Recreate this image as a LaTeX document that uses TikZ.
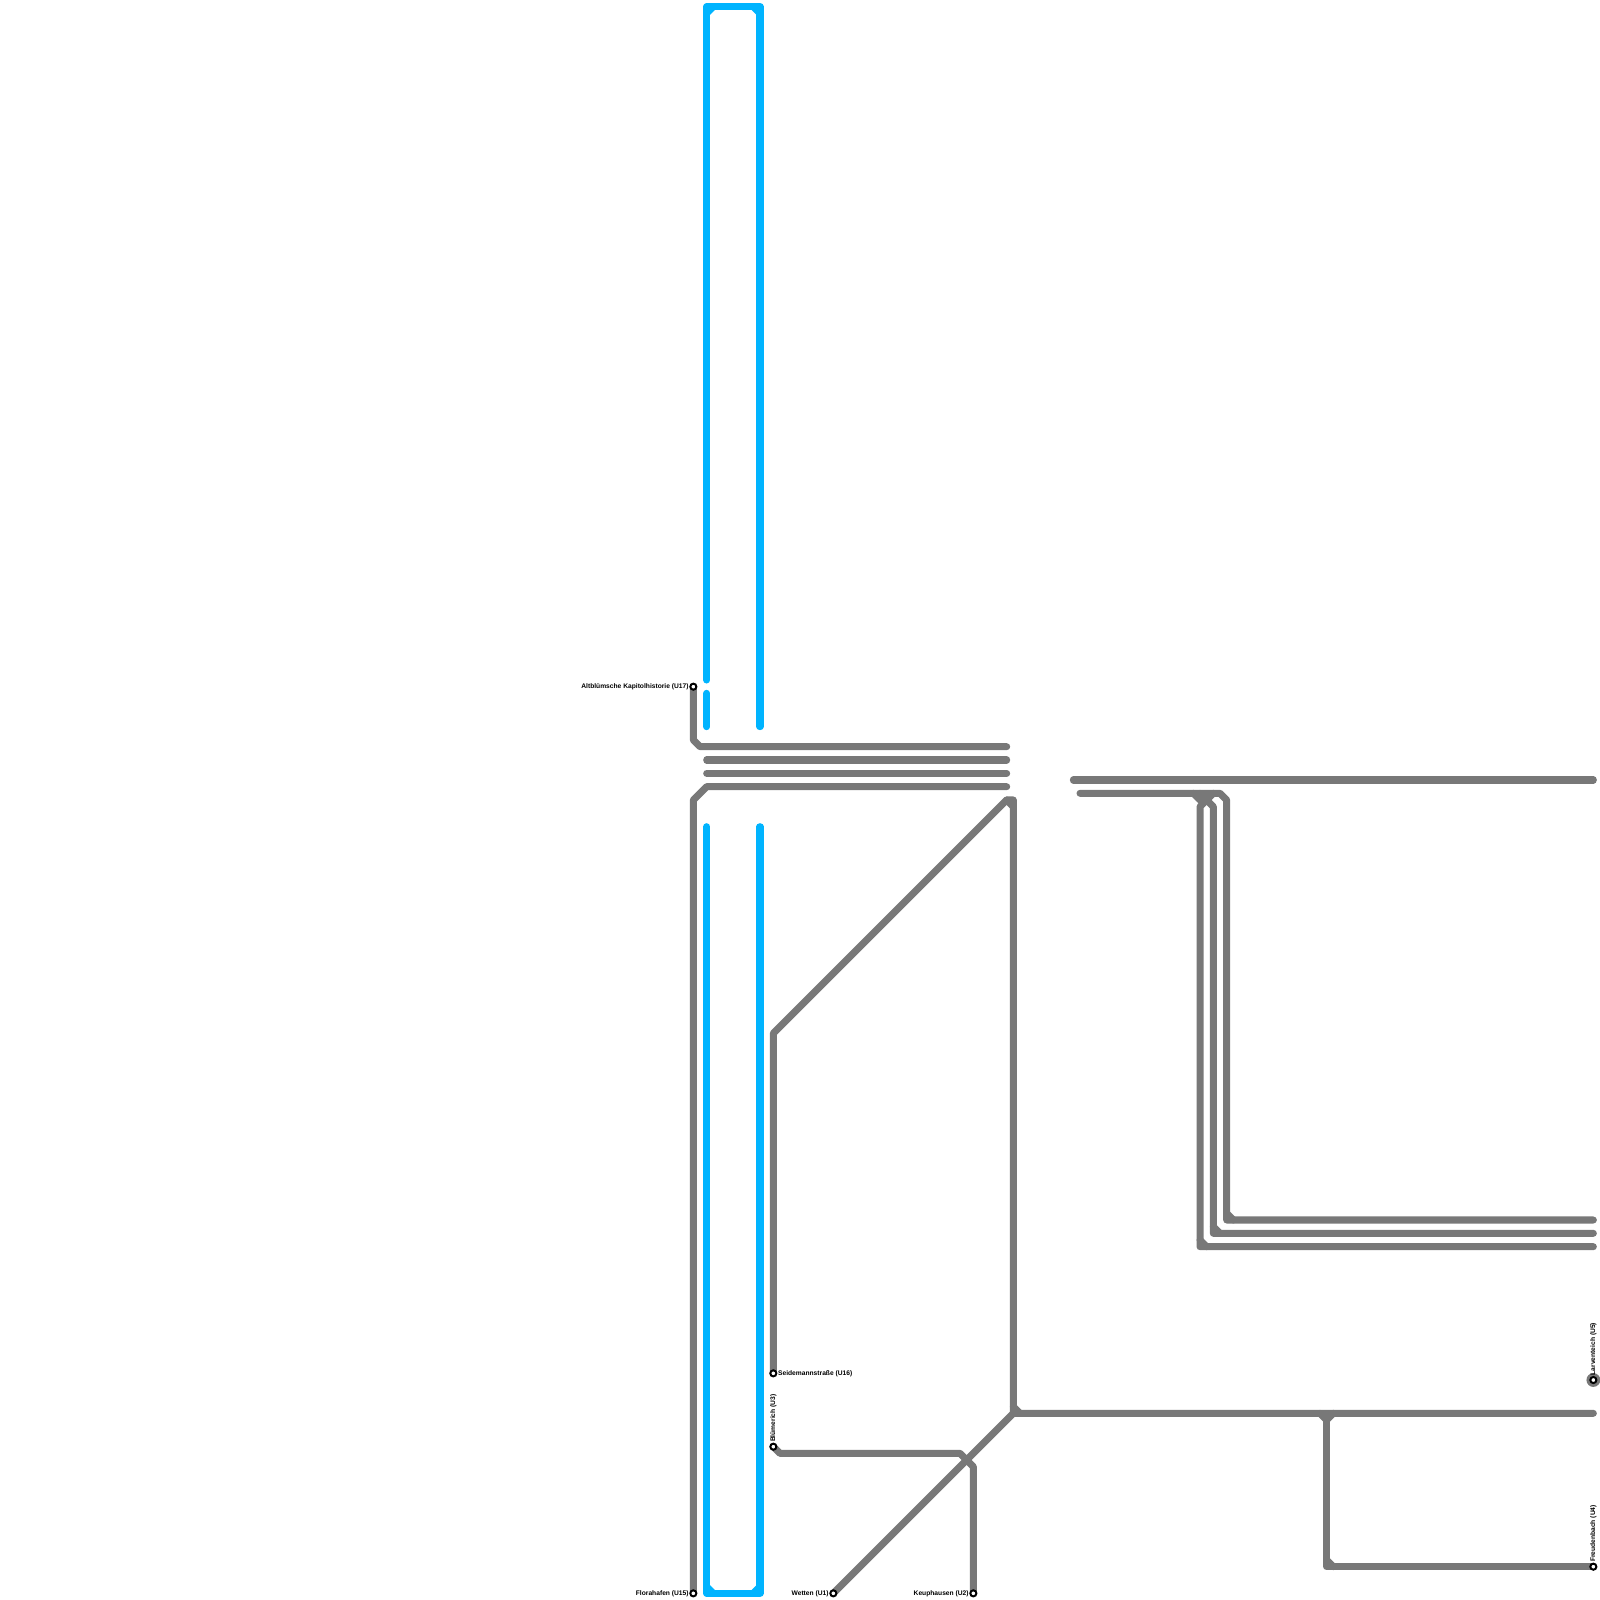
\documentclass[tikz,border=0pt]{standalone}
\usepackage{fontspec}
\setmainfont{Liberation Sans}
\usepackage{tikz}
\usetikzlibrary{positioning}

\definecolor{linegray}{HTML}{787878}
\definecolor{lineblue}{HTML}{00B4FF}

\tikzset{
    grayline/.style={draw=linegray, line width=3pt, line cap=round, line join=round},
    blueline/.style={draw=lineblue, line width=3pt, line cap=round, line join=round},
    stop/.style={draw=black, fill=white, circle, line width=0.85pt, inner sep=0pt, minimum size=2.6pt},
    halo/.style={fill=linegray, circle, inner sep=0pt, minimum size=5.9pt},
    stoplabel/.style={inner sep=0.1pt, font=\fontsize{2.85}{3.4}\selectfont\bfseries}
}

\begin{document}
\begin{tikzpicture}[x=0.2cm, y=-0.2cm]
        \useasboundingbox (0, 0) rectangle (120, 120);

        % blue, upper part
        \coordinate (A1) at (53, 51);
        \coordinate (A2) at (53, 0.5);
        \coordinate (A3) at (57, 0.5);
        \coordinate (A4) at (57, 54.5);
        \coordinate (A5) at (53, 1);
        \coordinate (A6) at (53.5, 0.5);
        \coordinate (A7) at (56.5, 0.5);
        \coordinate (A8) at (57, 1);
        \coordinate (A9) at (53, 52);
        \coordinate (A10) at (53, 54.5);

        \draw [blueline] (A1) -- (A2) -- (A3) -- (A4);
        \draw [blueline] (A5) -- (A6);
        \draw [blueline] (A7) -- (A8);
        \draw [blueline] (A9) -- (A10);

        % blue, lower part
        \coordinate (B1) at (53, 62);
        \coordinate (B2) at (53, 119.5);
        \coordinate (B3) at (57, 119.5);
        \coordinate (B4) at (57, 62);
        \coordinate (B5) at (53, 119);
        \coordinate (B6) at (53.5, 119.5);
        \coordinate (B7) at (56.5, 119.5);
        \coordinate (B8) at (57, 119);

        \draw [blueline] (B1) -- (B2) -- (B3) -- (B4);
        \draw [blueline] (B5) -- (B6);
        \draw [blueline] (B7) -- (B8);

        % stations
        \coordinate (U17) at (52, 51.5);
        \coordinate (U15) at (52, 119.5);
        \coordinate (U16) at (58, 103);
        \coordinate (U3) at (58, 108.5);
        \coordinate (U1) at (62.5, 119.5);
        \coordinate (U2) at (73, 119.5);
        \coordinate (U4) at (119.5, 117.5);
        \coordinate (U5) at (119.5, 103.5);

        % horizontal bundle
        \coordinate (C1) at (52, 55.5);
        \coordinate (C2) at (52.5, 56);
        \coordinate (C3) at (75.5, 56);
        \coordinate (C4) at (53, 57);
        \coordinate (C5) at (75.5, 57);
        \coordinate (C6) at (53, 58);
        \coordinate (C7) at (75.5, 58);
        \coordinate (C8) at (75.5, 59);
        \coordinate (C9) at (53, 59);
        \coordinate (C10) at (52, 60);

        \draw [grayline] (U17) -- (C1) -- (C2) -- (C3);
        \draw [grayline] (C4) -- (C5);
        \draw [grayline] (C6) -- (C7);
        \draw [grayline] (C8) -- (C9) -- (C10) -- (U15);

        % middle
        \coordinate (D1) at (58, 77.5);
        \coordinate (D2) at (75.5, 60);
        \coordinate (D3) at (76, 60);
        \coordinate (D4) at (76, 60.5);
        \coordinate (D5) at (76, 106);
        \coordinate (D6) at (119.5, 106);
        \coordinate (D7) at (76, 105.5);
        \coordinate (D8) at (76.5, 106);

        \draw [grayline] (U16) -- (D1) -- (D2) -- (D3) -- (D5) -- (D6);
        \draw [grayline] (D2) -- (D4);
        \draw [grayline] (D7) -- (D8);
        \draw [grayline] (U1) -- (D5);

        \coordinate (E1) at (58.5, 109);
        \coordinate (E2) at (72, 109);
        \coordinate (E3) at (73, 110);

        \draw [grayline] (U3) -- (E1) -- (E2) -- (E3) -- (U2);

        % branch down to U4
        \coordinate (F1) at (99, 106);
        \coordinate (F2) at (99.5, 106.5);
        \coordinate (F3) at (100, 106);
        \coordinate (F4) at (99.5, 117.5);
        \coordinate (F5) at (99.5, 117);
        \coordinate (F6) at (100, 117.5);

        \draw [grayline] (F1) -- (F2) -- (F3);
        \draw [grayline] (F2) -- (F4) -- (U4);
        \draw [grayline] (F5) -- (F6);

        % right bundle
        \coordinate (G1) at (80.5, 58.5);
        \coordinate (G2) at (119.5, 58.5);
        \coordinate (G3) at (81, 59.5);
        \coordinate (G4) at (91.5, 59.5);
        \coordinate (G5) at (92, 60);
        \coordinate (G6) at (92, 91.5);
        \coordinate (G7) at (119.5, 91.5);
        \coordinate (G8) at (92, 91);
        \coordinate (G9) at (92.5, 91.5);

        \coordinate (H1) at (90, 59.5);
        \coordinate (H2) at (91, 60.5);
        \coordinate (H3) at (91, 92.5);
        \coordinate (H4) at (119.5, 92.5);
        \coordinate (H5) at (91, 92);
        \coordinate (H6) at (91.5, 92.5);

        \coordinate (I1) at (91, 59.5);
        \coordinate (I2) at (90, 60.5);
        \coordinate (I3) at (90, 93.5);
        \coordinate (I4) at (119.5, 93.5);
        \coordinate (I5) at (90, 93);
        \coordinate (I6) at (90.5, 93.5);
        \coordinate (I7) at (89.5, 59.5);
        \coordinate (I8) at (90, 60);

        \draw [grayline] (G1) -- (G2);
        \draw [grayline] (G3) -- (G4) -- (G5) -- (G6) -- (G7);
        \draw [grayline] (G8) -- (G9);
        \draw [grayline] (H1) -- (H2) -- (H3) -- (H4);
        \draw [grayline] (H5) -- (H6);
        \draw [grayline] (I1) -- (I2) -- (I3) -- (I4);
        \draw [grayline] (I5) -- (I6);
        \draw [grayline] (I7) -- (I8);

        % station marks and names
        \node [halo] (U5halo) at (U5) {};
        \node [stop] (U17stop) at (U17) {};
        \node [stop] (U15stop) at (U15) {};
        \node [stop] (U16stop) at (U16) {};
        \node [stop] (U3stop) at (U3) {};
        \node [stop] (U1stop) at (U1) {};
        \node [stop] (U2stop) at (U2) {};
        \node [stop] (U4stop) at (U4) {};
        \node [stop] (U5stop) at (U5) {};

        \node [stoplabel, left=0pt of U17stop] (U17name) {Altblümsche Kapitolhistorie (U17)};
        \node [stoplabel, left=0pt of U15stop] (U15name) {Florahafen (U15)};
        \node [stoplabel, right=0pt of U16stop] (U16name) {Seidemannstraße (U16)};
        \node [stoplabel, left=0pt of U1stop] (U1name) {Wetten (U1)};
        \node [stoplabel, left=0pt of U2stop] (U2name) {Keuphausen (U2)};
        \node [stoplabel, rotate=90, anchor=west] (U3name) at (U3stop.north) {Blümerich (U3)};
        \node [stoplabel, rotate=90, anchor=west] (U4name) at (U4stop.north) {Freudenbach (U4)};
        \node [stoplabel, rotate=90, anchor=west] (U5name) at (U5stop.north) {Larventeich (U5)};
    \end{tikzpicture}
\end{document}
